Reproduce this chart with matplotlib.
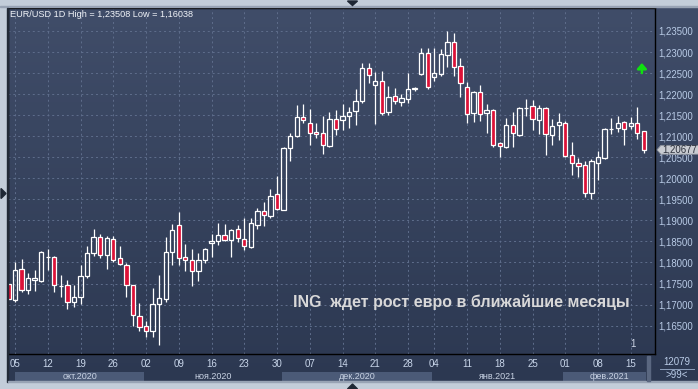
import numpy as np
import pandas as pd
import matplotlib
matplotlib.use("Agg")
import matplotlib.pyplot as plt
import matplotlib.transforms as mtransforms
from matplotlib.patches import Rectangle, Polygon

# ---- data (EUR/USD daily) ----
dates = pd.bdate_range("2020-10-02", "2021-02-17").drop(pd.Timestamp("2021-01-01"))
opens = [1.1748, 1.1711, 1.1784, 1.1734, 1.1759, 1.1757, 1.1812, 1.1813, 1.1743, 1.1746,
         1.1707, 1.1719, 1.1768, 1.1822, 1.1860, 1.1818, 1.1856, 1.1810, 1.1794, 1.1746,
         1.1672, 1.1649, 1.1636, 1.1701, 1.1713, 1.1826, 1.1889, 1.1812, 1.1807, 1.1779,
         1.1806, 1.1846, 1.1851, 1.1865, 1.1853, 1.1879, 1.1856, 1.1837, 1.1890, 1.1922,
         1.1911, 1.1963, 1.1925, 1.2072, 1.2100, 1.2146, 1.2131, 1.2110, 1.2108, 1.2077,
         1.2141, 1.2138, 1.2148, 1.2159, 1.2183, 1.2262, 1.2222, 1.2231, 1.2158, 1.2196,
         1.2181, 1.2188, 1.2213, 1.2247, 1.2298, 1.2241, 1.2248, 1.2292, 1.2323, 1.2267,
         1.2216, 1.2154, 1.2204, 1.2154, 1.2162, 1.2083, 1.2075, 1.2126, 1.2104, 1.2166,
         1.2171, 1.2139, 1.2166, 1.2104, 1.2126, 1.2131, 1.2055, 1.2036, 1.2031, 1.1964,
         1.2036, 1.2049, 1.2117, 1.2119, 1.2133, 1.2124, 1.2131, 1.2112]
highs = [1.1752, 1.1800, 1.1809, 1.1775, 1.1783, 1.1828, 1.1833, 1.1816, 1.1771, 1.1759,
         1.1746, 1.1794, 1.1840, 1.1880, 1.1867, 1.1864, 1.1862, 1.1840, 1.1799, 1.1747,
         1.1703, 1.1660, 1.1740, 1.1771, 1.1860, 1.1892, 1.1920, 1.1844, 1.1832, 1.1823,
         1.1834, 1.1868, 1.1894, 1.1892, 1.1880, 1.1890, 1.1906, 1.1906, 1.1929, 1.1943,
         1.1974, 1.2005, 1.2074, 1.2108, 1.2175, 1.2177, 1.2165, 1.2131, 1.2149, 1.2158,
         1.2163, 1.2177, 1.2169, 1.2212, 1.2273, 1.2273, 1.2252, 1.2256, 1.2220, 1.2215,
         1.2201, 1.2251, 1.2217, 1.2310, 1.2310, 1.2310, 1.2306, 1.2351, 1.2345, 1.2285,
         1.2229, 1.2208, 1.2222, 1.2177, 1.2164, 1.2087, 1.2143, 1.2157, 1.2170, 1.2188,
         1.2185, 1.2174, 1.2169, 1.2140, 1.2155, 1.2135, 1.2086, 1.2048, 1.2040, 1.2046,
         1.2065, 1.2119, 1.2143, 1.2148, 1.2136, 1.2146, 1.2169, 1.2113]
lows = [1.1710, 1.1707, 1.1731, 1.1724, 1.1733, 1.1753, 1.1783, 1.1731, 1.1719, 1.1689,
        1.1694, 1.1702, 1.1763, 1.1816, 1.1810, 1.1785, 1.1802, 1.1793, 1.1717, 1.1649,
        1.1637, 1.1622, 1.1622, 1.1604, 1.1707, 1.1794, 1.1794, 1.1779, 1.1745, 1.1757,
        1.1798, 1.1814, 1.1841, 1.1850, 1.1814, 1.1849, 1.1830, 1.1834, 1.1880, 1.1886,
        1.1906, 1.1925, 1.1924, 1.2040, 1.2098, 1.2131, 1.2078, 1.2095, 1.2058, 1.2074,
        1.2104, 1.2114, 1.2119, 1.2126, 1.2180, 1.2226, 1.2128, 1.2151, 1.2150, 1.2176,
        1.2171, 1.2180, 1.2207, 1.2245, 1.2211, 1.2230, 1.2242, 1.2265, 1.2244, 1.2192,
        1.2131, 1.2134, 1.2136, 1.2108, 1.2074, 1.2051, 1.2073, 1.2075, 1.2101, 1.2147,
        1.2115, 1.2106, 1.2055, 1.2078, 1.2091, 1.2051, 1.2008, 1.2002, 1.1956, 1.1950,
        1.1997, 1.2047, 1.2105, 1.2110, 1.2080, 1.2116, 1.2094, 1.2059]
closes = [1.1714, 1.1782, 1.1734, 1.1763, 1.1763, 1.1825, 1.1813, 1.1746, 1.1745, 1.1706,
          1.1718, 1.1769, 1.1822, 1.1860, 1.1818, 1.1858, 1.1806, 1.1796, 1.1746, 1.1675,
          1.1646, 1.1637, 1.1701, 1.1715, 1.1826, 1.1876, 1.1810, 1.1807, 1.1779, 1.1806,
          1.1832, 1.1851, 1.1865, 1.1853, 1.1877, 1.1857, 1.1838, 1.1894, 1.1922, 1.1913,
          1.1959, 1.1927, 1.2072, 1.2100, 1.2146, 1.2138, 1.2108, 1.2105, 1.2079, 1.2141,
          1.2117, 1.2148, 1.2158, 1.2184, 1.2262, 1.2245, 1.2231, 1.2155, 1.2193, 1.2184,
          1.2191, 1.2212, 1.2214, 1.2298, 1.2217, 1.2250, 1.2296, 1.2323, 1.2265, 1.2226,
          1.2152, 1.2205, 1.2152, 1.2162, 1.2078, 1.2076, 1.2126, 1.2107, 1.2166, 1.2167,
          1.2140, 1.2166, 1.2105, 1.2124, 1.2134, 1.2054, 1.2036, 1.2030, 1.1964, 1.2040,
          1.2050, 1.2116, 1.2118, 1.2131, 1.2116, 1.2131, 1.2108, 1.2068]

price_ticks = [1.165, 1.170, 1.175, 1.180, 1.185, 1.190, 1.195, 1.200,
               1.205, 1.210, 1.215, 1.220, 1.225, 1.230, 1.235]
month_names = {10: "окт.2020", 11: "ноя.2020", 12: "дек.2020", 1: "янв.2021", 2: "фев.2021"}
header = "EUR/USD 1D High = 1,23508 Low = 1,16038"
headline = "ING  ждет рост евро в ближайшие месяцы"
last_price = 1.20677
signal_lo, signal_hi = 1.2250, 1.2274   # green up-arrow marker
bar_count_txt, zoom_txt = "12079", ">99<"

W, H = 698, 389
BG_TOP, BG_BOT = "#404d69", "#2c3851"
RED = "#dc1238"
GRID = "#5f6e8c"
TXT = "#b9cbe6"
FONT = "Liberation Sans"


def rect(x0, y0, x1, y1):
    # pixel box -> figure fraction
    return [x0 / W, 1 - y1 / H, (x1 - x0) / W, (y1 - y0) / H]


plt.rcParams["font.family"] = [FONT, "DejaVu Sans"]
fig = plt.figure(figsize=(W / 100, H / 100), dpi=100, facecolor="#c3cdd9")

# dark gradient background behind chart + axes panels
bg = fig.add_axes(rect(8, 8, 698, 382))
grad = np.linspace(0, 1, 256)[:, None]
c0 = np.array(matplotlib.colors.to_rgb(BG_TOP))
c1 = np.array(matplotlib.colors.to_rgb(BG_BOT))
img = c0[None, None, :] * (1 - grad[..., None]) + c1[None, None, :] * grad[..., None]
bg.imshow(img, aspect="auto", extent=(0, 1, 0, 1))
bg.set_axis_off()

ax = fig.add_axes(rect(8, 8, 655, 354))
ax.patch.set_alpha(0)
x = np.arange(len(dates))
o, h, l, c = map(np.array, (opens, highs, lows, closes))
top = np.maximum(o, c)
bot = np.minimum(o, c)
up = c >= o

ax.vlines(x, top, h, color="white", lw=0.9, zorder=3)
ax.vlines(x, l, bot, color="white", lw=0.9, zorder=3)
body = np.maximum(top - bot, 0.00002)
ax.bar(x[up], body[up], bottom=bot[up], width=0.66, facecolor="none",
       edgecolor="white", linewidth=0.9, zorder=4)
ax.bar(x[~up], body[~up], bottom=bot[~up], width=0.66, facecolor=RED,
       edgecolor="white", linewidth=0.9, zorder=4)

ax.set_xlim(-0.07, 98.7)
ax.set_ylim(1.15825, 1.24046)

# week ticks (mondays) + month bands
mondays = [i for i, d in enumerate(dates) if d.weekday() == 0]
ax.set_xticks(mondays)
ax.set_xticklabels([dates[i].strftime("%d") for i in mondays])
ax.yaxis.tick_right()
ax.set_yticks(price_ticks)
ax.set_yticklabels([f"{v:.5f}".replace(".", ",") for v in price_ticks])
ax.tick_params(axis="x", length=0, pad=3.5, labelsize=7, labelcolor="#c9d6ea")
ax.tick_params(axis="y", length=0, pad=2.5, labelsize=6.9, labelcolor=TXT)
ax.grid(True, color=GRID, linestyle=(0, (2, 3)), linewidth=0.7)
ax.set_axisbelow(True)
for s in ax.spines.values():
    s.set_color("black")
    s.set_linewidth(1.0)

tr = mtransforms.blended_transform_factory(ax.transData, ax.transAxes)
starts = [i for i in range(1, len(dates)) if dates[i].month != dates[i - 1].month]
edges = [1] + starts + [98.7]
for k in range(len(edges) - 1):
    a, b = edges[k] - 0.3, edges[k + 1] - 0.3
    if k == 0:
        a = 1
    if k == len(edges) - 2:
        b = 98.7
    mon = dates[min(int(edges[k]), len(dates) - 1)].month
    if k % 2 == 0:
        ax.add_patch(Rectangle((a, -0.079), (b - 1.3 if k == len(edges) - 2 else b) - a, 0.027,
                               transform=tr, clip_on=False, facecolor="#4b5a77",
                               edgecolor="none", zorder=1))
    ax.text((a + b) / 2, -0.066, month_names[mon], transform=tr, ha="center", va="center",
            fontsize=6.5, color="#c9d3e4", clip_on=False)

# header + headline
ax.text(0.003, 0.981, header, transform=ax.transAxes, ha="left", va="center",
        fontsize=6.6, color="#f0f3f8")
ax.text(0.44, 0.150, headline, transform=ax.transAxes, ha="left", va="center",
        fontsize=11.5, fontweight="bold", color="#d8d8d8", zorder=6)

# signal arrow above the last bar
ax.annotate("", xy=(96.7, signal_hi), xytext=(96.7, signal_lo),
            arrowprops=dict(arrowstyle="-|>,head_width=0.28,head_length=0.32",
                            color="#10e010", lw=1.8, shrinkA=0, shrinkB=0), zorder=6)
ax.text(95.3, 1.1594, "1", ha="center", va="bottom", fontsize=7, color="#d0d8e8")

# last price tag on the price axis (covers the 1,20500 label as in the source)
ty = mtransforms.blended_transform_factory(ax.transAxes, ax.transData)
d = 0.00105
tag = Polygon([(1.0031, last_price), (1.009, last_price + d), (1.07, last_price + d),
               (1.07, last_price - d), (1.009, last_price - d)], closed=True,
              transform=ty, clip_on=False, facecolor="#c9ccd2", edgecolor="#8a8f99",
              lw=0.6, zorder=7)
ax.add_patch(tag)
ax.text(1.0385, last_price, f"{last_price:.5f}".replace(".", ","), transform=ty,
        ha="center", va="center", fontsize=6.9, color="#2a2f3a", clip_on=False, zorder=8)

# pixel-space overlay for frame decoration and corner panel
ov = fig.add_axes([0, 0, 1, 1])
ov.set_xlim(0, W)
ov.set_ylim(H, 0)
ov.set_axis_off()
ov.patch.set_alpha(0)
ov.add_patch(Rectangle((0, 5.5), W, 1.2, color="#98a3b4"))
ov.add_patch(Rectangle((6.5, 8), 1.2, 374, color="#222a36"))
ov.add_patch(Rectangle((8, 381.2), W, 1.2, color="#98a3b4"))
ov.add_patch(Polygon([(347.5, 1), (357.5, 1), (352.5, 5.5)], color="#1e2734"))
ov.add_patch(Polygon([(347.5, 389), (357.5, 389), (352.5, 384)], color="#1e2734"))
ov.add_patch(Polygon([(1, 188.5), (1, 198.5), (6, 193.5)], color="#1e2734"))
ov.add_patch(Rectangle((647, 356), 2.5, 25, color="#5a6780"))
ov.text(677, 362, bar_count_txt, ha="center", va="center", fontsize=7, color=TXT)
ov.plot([660, 694], [368.5, 368.5], color="#8ea0bd", lw=0.7)
ov.text(677, 375, zoom_txt, ha="center", va="center", fontsize=7, color=TXT)

fig.savefig("out.png", dpi=100, facecolor=fig.get_facecolor())
